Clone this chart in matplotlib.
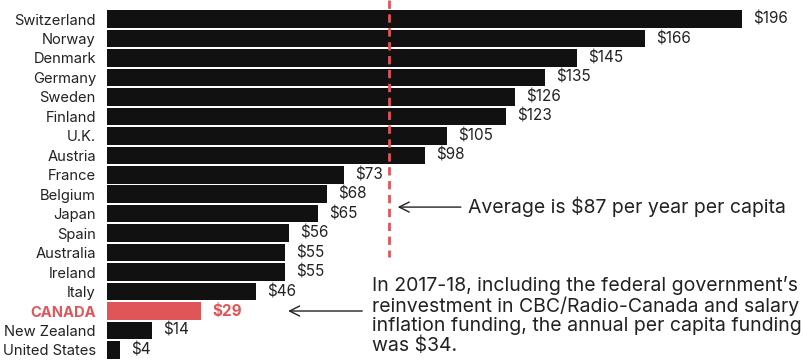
import matplotlib
matplotlib.use("Agg")
import matplotlib.pyplot as plt

countries = ["Switzerland", "Norway", "Denmark", "Germany", "Sweden", "Finland",
             "U.K.", "Austria", "France", "Belgium", "Japan", "Spain",
             "Australia", "Ireland", "Italy", "CANADA", "New Zealand", "United States"]
values = [196, 166, 145, 135, 126, 123, 105, 98, 73, 68, 65, 56, 55, 55, 46, 29, 14, 4]
highlight = "CANADA"
average = 87

BLACK = "#111111"
RED = "#e05558"

plt.rcParams["font.family"] = ["Inter", "DejaVu Sans"]

fig = plt.figure(figsize=(8.04, 3.62), dpi=100)
ax = fig.add_axes([107 / 804, 0, 697 / 804, 1])

ypos = list(range(len(countries)))
colors = [RED if c == highlight else BLACK for c in countries]
ax.barh(ypos, values, height=0.9, color=colors)

ax.set_xlim(0, 215)
ax.set_ylim(17.62, -0.98)

for y, v, c in zip(ypos, values, countries):
    hl = c == highlight
    ax.annotate(f"${v}", (v, y), xytext=(8, 0), textcoords="offset points",
                va="center", ha="left", fontsize=11,
                color=RED if hl else "#222222",
                fontweight="bold" if hl else "normal")

ax.set_yticks(ypos)
ax.set_yticklabels(countries, fontsize=10.6, color="#222222")
for lab in ax.get_yticklabels():
    if lab.get_text() == highlight:
        lab.set_color(RED)
        lab.set_fontweight("bold")
ax.tick_params(axis="y", length=0, pad=8)
ax.tick_params(axis="x", length=0, labelbottom=False)
for s in ax.spines.values():
    s.set_visible(False)

# average line
ax.plot([average, average], [-0.98, 12.2], color=RED, lw=2,
        linestyle=(0, (3, 2)), solid_capstyle="butt")

ax.annotate("", xy=(average + 1.8, 9.66), xytext=(110, 9.66),
            arrowprops=dict(arrowstyle="->", color="#222222", lw=1,
                            mutation_scale=18))
ax.text(111.4, 9.66, "Average is $87 per year per capita", fontsize=14,
        va="center", ha="left", color="#222222")

ax.annotate("", xy=(55, 15), xytext=(79.6, 15),
            arrowprops=dict(arrowstyle="->", color="#222222", lw=1,
                            mutation_scale=18))
ax.text(81.8, 15.23,
        "In 2017-18, including the federal government\u2019s\n"
        "reinvestment in CBC/Radio-Canada and salary\n"
        "inflation funding, the annual per capita funding\n"
        "was $34.",
        fontsize=14, va="center", ha="left", color="#222222", linespacing=1.1)

fig.savefig("out.png", dpi=100)
